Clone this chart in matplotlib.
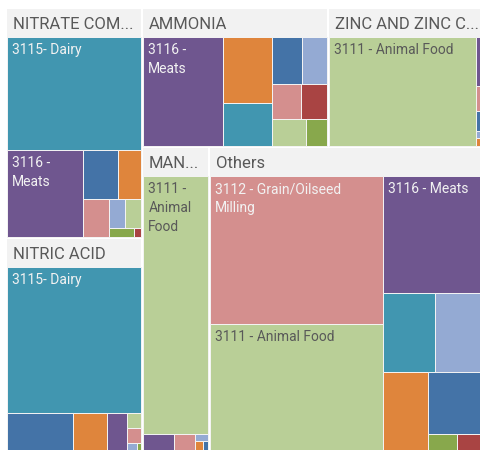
import matplotlib
matplotlib.use("Agg")
import matplotlib.pyplot as plt
from matplotlib.patches import Rectangle
from matplotlib.colors import to_rgb
from matplotlib.font_manager import FontProperties

# chemical groups (top level of the treemap), in layout order
groups = ["NITRATE COM...", "NITRIC ACID", "AMMONIA", "ZINC AND ZINC C...", "MAN...", "Others"]

# industry categories (second level)
DAIRY = "3115- Dairy"
MEATS = "3116 - Meats"
ANIMAL = "3111 - Animal Food"
GRAIN = "3112 - Grain/Oilseed Milling"
SUGAR = "3113 - Sugar and Confectionery Product"
FRUIT = "3114 - Fruit and Vegetable Preserving"
SEAFOOD = "3117 - Seafood Product Preparation"
BAKERY = "3118 - Bakeries and Tortilla"
OTHER_FOOD = "3119 - Other Food"

nitrate_cats = [DAIRY, MEATS, FRUIT, SUGAR, GRAIN, OTHER_FOOD, ANIMAL, BAKERY, SEAFOOD]
nitrate_vals = [176.5, 77.6, 20.2, 13.3, 11.3, 5.3, 5.3, 2.6, 0.7]

nitric_cats = [DAIRY, FRUIT, SUGAR, MEATS, ANIMAL, GRAIN, OTHER_FOOD, BAKERY]
nitric_vals = [230.1, 32.8, 16.6, 10.1, 2.5, 2.4, 1.4, 0.6]

ammonia_cats = [MEATS, SUGAR, DAIRY, FRUIT, OTHER_FOOD, GRAIN, SEAFOOD, ANIMAL, BAKERY]
ammonia_vals = [111.8, 42.5, 27.7, 17.9, 15.4, 12.5, 11.6, 11.7, 7.4]

zinc_cats = [ANIMAL, MEATS, GRAIN, FRUIT, OTHER_FOOD, SUGAR]
zinc_vals = [207.0, 6.3, 3.2, 2.6, 0.9, 1.0]

man_cats = [ANIMAL, MEATS, GRAIN, OTHER_FOOD, SUGAR, FRUIT]
man_vals = [191.7, 7.2, 5.0, 1.1, 1.2, 0.8]

others_cats = [GRAIN, ANIMAL, MEATS, DAIRY, OTHER_FOOD, SUGAR, FRUIT, BAKERY, SEAFOOD]
others_vals = [285.9, 252.6, 134.5, 46.4, 44.7, 41.3, 39.9, 7.0, 6.7]

group_cats = [nitrate_cats, nitric_cats, ammonia_cats, zinc_cats, man_cats, others_cats]
group_vals = [nitrate_vals, nitric_vals, ammonia_vals, zinc_vals, man_vals, others_vals]

colors = {
    DAIRY: "#4196b0",
    MEATS: "#6f568f",
    ANIMAL: "#b9cf97",
    GRAIN: "#d48f8e",
    SUGAR: "#df853c",
    FRUIT: "#4473a7",
    SEAFOOD: "#a94443",
    BAKERY: "#88a84c",
    OTHER_FOOD: "#94aad3",
}

# strip layout: ("v", n) = column of n items on the left, ("h", n) = row of n items on top
top_rows = [("v", 2), ("h", 2), ("v", 1), ("v", 1)]
child_rows = [
    [("h", 1), ("v", 1), ("h", 2), ("v", 1), ("h", 2), ("v", 1), ("v", 1)],
    [("h", 1), ("v", 1), ("v", 1), ("v", 1), ("h", 1), ("h", 1), ("v", 1), ("v", 1)],
    [("v", 1), ("v", 2), ("h", 2), ("h", 2), ("v", 1), ("v", 1)],
    [("v", 1), ("v", 5)],
    [("h", 1), ("v", 1), ("v", 1), ("h", 1), ("v", 1), ("v", 1)],
    [("v", 2), ("h", 1), ("h", 2), ("v", 1), ("h", 1), ("v", 1), ("v", 1)],
]


def strip_layout(values, rows, x, y, w, h):
    rects = []
    i = 0
    remaining = sum(values)
    for orient, n in rows:
        chunk = values[i:i + n]
        s = sum(chunk)
        if orient == "v":
            cw = w * s / remaining
            yy = y
            for v in chunk:
                ch = h * v / s
                rects.append((x, yy, cw, ch))
                yy += ch
            x += cw
            w -= cw
        else:
            rh = h * s / remaining
            xx = x
            for v in chunk:
                cw = w * v / s
                rects.append((xx, y, cw, rh))
                xx += cw
            y += rh
            h -= rh
        remaining -= s
        i += n
    return rects


def luminance(c):
    r, g, b = to_rgb(c)
    lin = [v / 12.92 if v <= 0.04045 else ((v + 0.055) / 1.055) ** 2.4 for v in (r, g, b)]
    return 0.2126 * lin[0] + 0.7152 * lin[1] + 0.0722 * lin[2]


plt.rcParams["font.family"] = ["Roboto", "DejaVu Sans"]

fig = plt.figure(figsize=(4.81, 4.5), dpi=100)
W, H = 481, 448  # treemap canvas (the screenshot crops its right and bottom edge)
ax = fig.add_axes([6 / 481, (450 - 8 - H) / 450, W / 481, H / 450])
ax.set_xlim(0, W)
ax.set_ylim(H, 0)
ax.axis("off")

renderer = fig.canvas.get_renderer()
label_font = FontProperties(family="Roboto", size=10)


def text_width(s):
    w, _, _ = renderer.get_text_width_height_descent(s, label_font, ismath=False)
    return w


def wrap(label, width):
    lines = []
    cur = ""
    for word in label.split(" "):
        trial = word if not cur else cur + " " + word
        if cur and text_width(trial) > width:
            lines.append(cur)
            cur = word
        else:
            cur = trial
    lines.append(cur)
    return "\n".join(lines)


header_h = 28
totals = [sum(v) for v in group_vals]
group_rects = strip_layout(totals, top_rows, 0, 0, W, H)

for name, cats, vals, rows, (gx, gy, gw, gh) in zip(groups, group_cats, group_vals, child_rows, group_rects):
    gx, gy, gw, gh = gx + 0.75, gy + 0.75, gw - 1.5, gh - 1.5
    ax.add_patch(Rectangle((gx, gy), gw, header_h, facecolor="#f2f2f2", edgecolor="none"))
    ax.text(gx + 6, gy + 20, name, fontsize=12, color="#595959", va="baseline", ha="left")

    cx, cy, cw, ch = gx + 0.5, gy + header_h + 0.5, gw - 1.0, gh - header_h - 1.0
    for cat, (x, y, w, h) in zip(cats, strip_layout(vals, rows, cx, cy, cw, ch)):
        col = colors[cat]
        ax.add_patch(Rectangle((x, y), w, h, facecolor=col, edgecolor="#f4f4f4", linewidth=0.7))
        # only cells big enough get a label
        if w > 60 and h > 55:
            tc = "#595959" if luminance(col) > 0.45 else "#f2f2f2"
            ax.text(x + 5, y + 6, wrap(cat, w - 10), fontproperties=label_font, color=tc,
                    va="top", ha="left", linespacing=1.45)

fig.savefig("out.png", dpi=100)
